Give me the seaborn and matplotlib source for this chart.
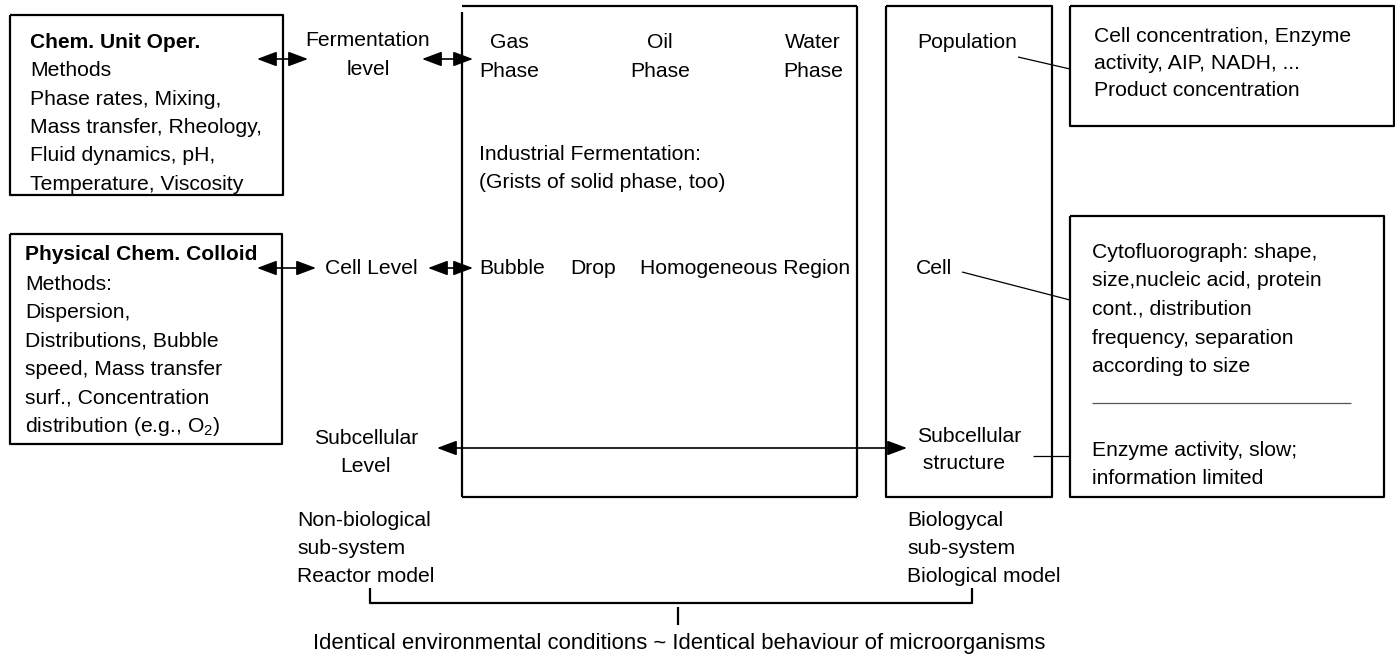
import matplotlib
matplotlib.use('Agg')
import matplotlib.pyplot as plt
import seaborn as sns
from matplotlib.patches import FancyArrowPatch

# text content of the diagram
chem_title = 'Chem. Unit Oper.'
chem_lines = ['Methods', 'Phase rates, Mixing,', 'Mass transfer, Rheology,',
              'Fluid dynamics, pH,', 'Temperature, Viscosity']
colloid_title = 'Physical Chem. Colloid'
colloid_lines = ['Methods:', 'Dispersion,', 'Distributions, Bubble',
                 'speed, Mass transfer', 'surf., Concentration',
                 r'distribution (e.g., $\mathregular{O_2}$)']
level_labels = ['Fermentation\nlevel', 'Cell Level', 'Subcellular\nLevel']
phase_labels = ['Gas\nPhase', 'Oil\nPhase', 'Water\nPhase']
industrial_lines = ['Industrial Fermentation:', '(Grists of solid phase, too)']
cell_row = ['Bubble', 'Drop', 'Homogeneous Region']
bio_labels = ['Population', 'Cell', 'Subcellular\n structure']
population_lines = ['Cell concentration, Enzyme', 'activity, AIP, NADH, ...',
                    'Product concentration']
cell_lines = ['Cytofluorograph: shape,', 'size,nucleic acid, protein',
              'cont., distribution', 'frequency, separation', 'according to size']
subcell_lines = ['Enzyme activity, slow;', 'information limited']
nonbio_lines = ['Non-biological', 'sub-system', 'Reactor model']
bio_lines = ['Biologycal', 'sub-system', 'Biological model']
bottom_text = 'Identical environmental conditions ~ Identical behaviour of microorganisms'

sns.set_theme(style='white')
plt.rcParams['font.family'] = ['Liberation Sans', 'DejaVu Sans']
plt.rcParams['text.color'] = 'black'
plt.rcParams['mathtext.fontset'] = 'custom'
plt.rcParams['mathtext.rm'] = 'Liberation Sans'

fig = plt.figure(figsize=(13.95, 6.56), dpi=100)
ax = fig.add_axes([0, 0, 1, 1])
ax.set_xlim(0, 1395)
ax.set_ylim(656, 0)
ax.axis('off')

fs = 15.2
lw = 1.6
k = 'black'

def line(xs, ys, w=lw, c=k):
    ax.plot(xs, ys, color=c, lw=w, solid_capstyle='butt')

def box(x0, y0, x1, y1):
    line([x0, x1, x1, x0, x0], [y0, y0, y1, y1, y0])

def arrow(x0, x1, y, style='<|-|>'):
    ax.add_patch(FancyArrowPatch((x0, y), (x1, y),
                 arrowstyle=style + ',head_length=1.2,head_width=0.45',
                 mutation_scale=10, color=k, lw=1.2, shrinkA=0, shrinkB=0))

def lines_at(x, y0, step, items, **kw):
    for i, s in enumerate(items):
        ax.text(x, y0 + i * step, s, fontsize=fs, va='center', ha='left', **kw)

# left method boxes
box(10, 15, 283, 195)
ax.text(30, 43, chem_title, fontsize=15.1, fontweight='bold', va='center')
lines_at(30, 71, 28.3, chem_lines)

box(10, 234, 282, 444)
ax.text(25, 255, colloid_title, fontsize=15.1, fontweight='bold', va='center')
lines_at(25, 284, 28.5, colloid_lines)

# level labels and arrows
ax.text(368, 55, level_labels[0], fontsize=fs, ha='center', va='center', linespacing=1.7)
ax.text(371, 268, level_labels[1], fontsize=fs, ha='center', va='center')
ax.text(366, 453, level_labels[2], fontsize=fs, ha='center', va='center', linespacing=1.6)
arrow(257, 308, 59)
arrow(422, 473, 59)
arrow(257, 316, 268)
arrow(428, 473, 268)
arrow(437, 907, 448)

# reactor box
line([462, 857], [6, 6])
line([462, 462], [12, 497])
line([857, 857], [6, 497])
line([462, 857], [497, 497])
for x, s in zip([509, 660, 813], phase_labels):
    ax.text(x, 57, s, fontsize=fs, ha='center', va='center', linespacing=1.65)
lines_at(479, 155, 28, industrial_lines)
for x, s in zip([479, 570, 640], cell_row):
    ax.text(x, 269, s, fontsize=fs, va='center')

# biological box
box(886, 6, 1052, 497)
ax.text(917, 42, bio_labels[0], fontsize=fs, va='center')
ax.text(916, 268, bio_labels[1], fontsize=fs, va='center')
ax.text(917, 450, bio_labels[2], fontsize=fs, va='center', linespacing=1.5)

# description boxes on the right
box(1070, 6, 1394, 126)
lines_at(1094, 37, 26.5, population_lines)
box(1070, 216, 1384, 497)
lines_at(1092, 252, 28.7, cell_lines)
line([1092, 1351], [403, 403], w=0.9, c='#555555')
lines_at(1092, 450, 28, subcell_lines)

# leader lines
line([1018, 1070], [57, 69], w=0.9)
line([962, 1070], [272, 300], w=0.9)
line([1033, 1070], [456, 456], w=0.9)

# sub-system captions and bracket
lines_at(297, 521, 28, nonbio_lines)
lines_at(907, 521, 28, bio_lines)
line([370, 370, 972, 972], [588, 603, 603, 588])
line([678, 678], [607, 625])
ax.text(679, 643, bottom_text, fontsize=15.9, ha='center', va='center')

fig.savefig('out.png', dpi=100)
